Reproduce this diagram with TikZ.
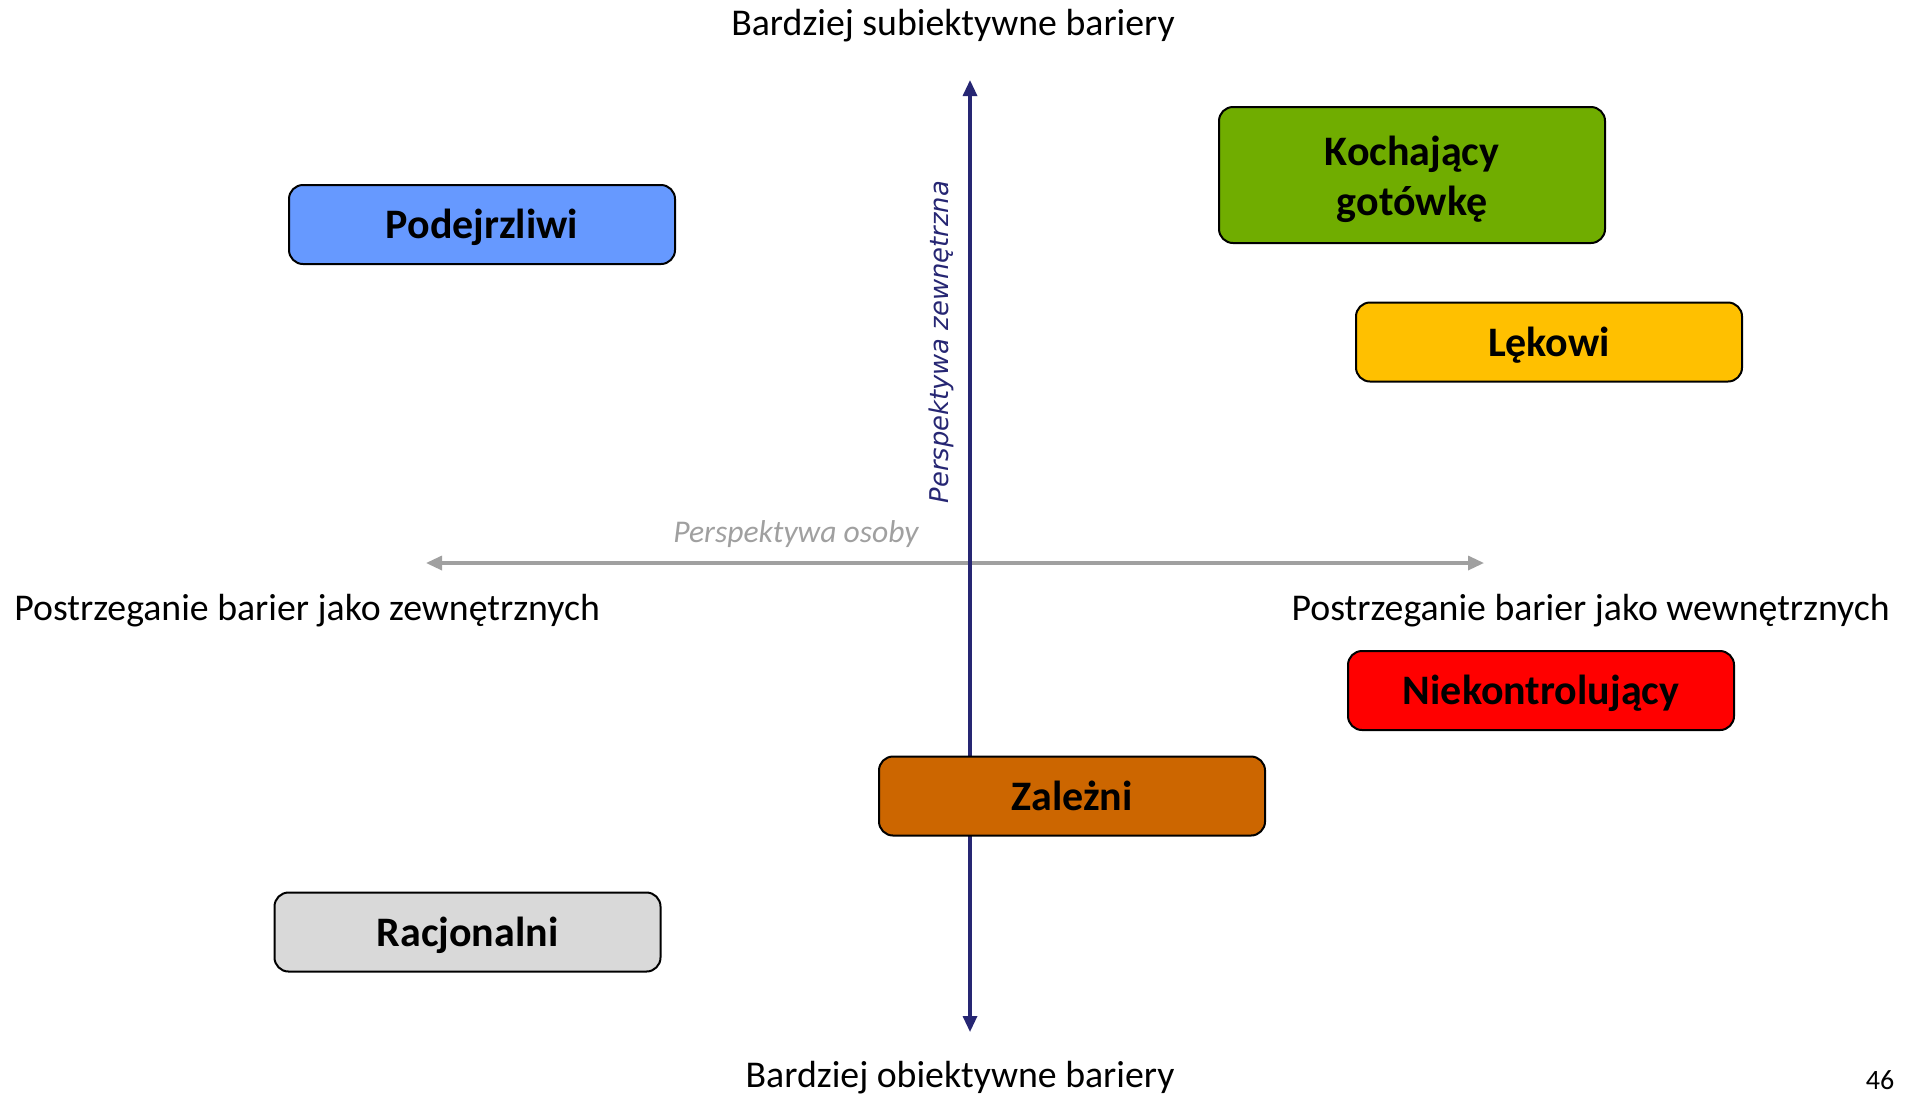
\documentclass[tikz,border=0pt]{standalone}
\usepackage{fontspec}
\setmainfont{Carlito}
\newfontfamily\djv{DejaVu Sans}
\usetikzlibrary{arrows.meta}
\definecolor{navyaxis}{RGB}{38,38,115}
\definecolor{grayaxis}{RGB}{160,160,160}
\definecolor{cblue}{RGB}{102,153,255}
\definecolor{cgreen}{RGB}{112,173,0}
\definecolor{cyellow}{RGB}{255,192,0}
\definecolor{cred}{RGB}{255,0,0}
\definecolor{corange}{RGB}{204,102,0}
\definecolor{cgray}{RGB}{217,217,217}
\tikzset{
  seg/.style={draw=black, line width=1pt, rounded corners=7pt, minimum width=193pt, minimum height=39.5pt, inner sep=0pt, align=center, text height=16pt, text depth=1.6pt, font=\bfseries\fontsize{21}{25}\selectfont},
  plain/.style={font=\fontsize{18.9}{22}\selectfont, inner sep=0pt},
}
\begin{document}
\begin{tikzpicture}[x=0.5pt,y=-0.5pt]
\useasboundingbox[fill=white] (0,0) rectangle (1914,1094);
% axes
\coordinate (hl) at (426,563);
\coordinate (hr) at (1484,563);
\coordinate (vt) at (970,80);
\coordinate (vb) at (970,1032);
\draw[grayaxis, line width=1.6pt, {Triangle[length=8pt,width=7pt]}-{Triangle[length=8pt,width=7pt]}] (hl) -- (hr);
\draw[navyaxis, line width=1.6pt, {Triangle[length=8pt,width=7pt]}-{Triangle[length=8pt,width=7pt]}] (vb) -- (vt);
% axis labels
\node[font=\itshape\fontsize{15.8}{18}\selectfont, text=grayaxis, inner sep=0pt] (osoby) at (796,534.5) {Perspektywa osoby};
\node[font=\djv\itshape\fontsize{12.9}{15}\selectfont, text=navyaxis, rotate=90, inner sep=0pt] (zewn) at (941,342) {Perspektywa zewnętrzna};
\node[plain] (top) at (953,25.5) {Bardziej subiektywne bariery};
\node[plain] (bot) at (960,1078) {Bardziej obiektywne bariery};
\node[plain, anchor=west] (left) at (14,610.5) {Postrzeganie barier jako zewnętrznych};
\node[plain, anchor=east] (right) at (1890,610.5) {Postrzeganie barier jako wewnętrznych};
\node[font=\fontsize{14}{16}\selectfont, inner sep=0pt] (page) at (1880,1080) {46};
% boxes
\node[seg, fill=cblue] (podej) at (482,224.5) {Podejrzliwi};
\node[seg, fill=cgreen, minimum height=68pt, text height=42pt, text depth=2pt] (koch) at (1412,175) {Kochający\\gotówkę};
\node[seg, fill=cyellow] (lek) at (1549,342) {Lękowi};
\node[seg, fill=cred] (niek) at (1541,690.5) {Niekontrolujący};
\node[seg, fill=corange] (zal) at (1072,796) {Zależni};
\node[seg, fill=cgray] (racj) at (467.5,932) {Racjonalni};
\end{tikzpicture}
\end{document}
